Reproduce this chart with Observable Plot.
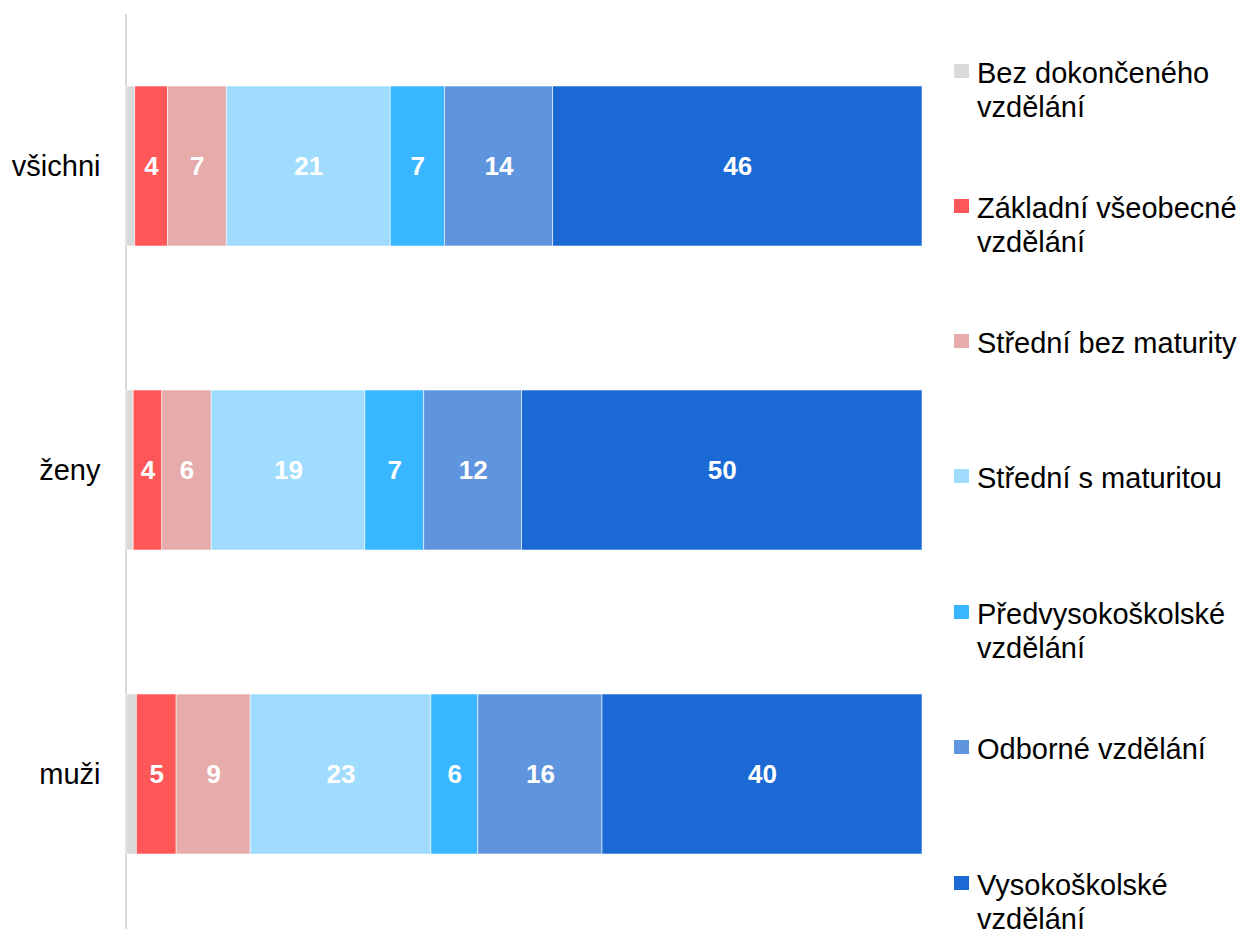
<!DOCTYPE html>
<html>
<head>
<meta charset="utf-8">
<script src="https://cdn.jsdelivr.net/npm/d3@7"></script>
<script src="https://cdn.jsdelivr.net/npm/@observablehq/plot@0.6"></script>
<style>
  html, body { margin: 0; padding: 0; background: #fff; }
  #wrap { position: relative; width: 1242px; height: 929px; overflow: hidden; font-family: "Liberation Sans", Arial, sans-serif; }
  #legend { position: absolute; left: 0; top: 0; }
  .item { position: absolute; left: 954px; width: 288px; }
  .sw { position: absolute; left: 0; width: 15px; height: 14px; }
  .lab { position: absolute; left: 23px; width: 265px; font-size: 29px; line-height: 34px; color: #000; }
</style>
</head>
<body>
<div id="wrap"><div id="chart"></div><div id="legend"></div></div>
<script>
const categories = ["všichni", "ženy", "muži"];
const seriesNames = [
  "Bez dokončeného vzdělání",
  "Základní všeobecné vzdělání",
  "Střední bez maturity",
  "Střední s maturitou",
  "Předvysokoškolské vzdělání",
  "Odborné vzdělání",
  "Vysokoškolské vzdělání"
];
const seriesColors = ["#d9d9d9", "#ff5757", "#e6acac", "#9fdcfd", "#38b6ff", "#5e95de", "#1a69d4"];
const valuesVsichni = [1.1, 4.1, 7.4, 20.6, 6.8, 13.6, 46.4];
const valuesZeny    = [0.9, 3.6, 6.2, 19.3, 7.4, 12.3, 50.3];
const valuesMuzi    = [1.3, 5.0, 9.3, 22.7, 5.9, 15.6, 40.2];

const rows = [];
[valuesVsichni, valuesZeny, valuesMuzi].forEach((vals, ci) => {
  vals.forEach((v, si) => rows.push({cat: categories[ci], series: seriesNames[si], value: v}));
});

const chart = Plot.plot({
  width: 1242,
  height: 929,
  marginLeft: 126,
  marginRight: 320,
  marginTop: 14,
  marginBottom: 3,
  style: {fontFamily: "'Liberation Sans', Arial, sans-serif", fontSize: "29px", color: "#000", background: "#fff"},
  x: {domain: [0, 100], axis: null},
  y: {domain: categories, paddingInner: 0.474, paddingOuter: 0.237, label: null},
  color: {domain: seriesNames, range: seriesColors},
  marks: [
    Plot.ruleX([0], {stroke: "#d9d9d9", strokeWidth: 2, dx: -0.5, insetBottom: -3}),
    Plot.barX(rows, Plot.stackX({x: "value", y: "cat", fill: "series", z: "series", stroke: "#fff", strokeWidth: 0.8, strokeOpacity: 0.7})),
    Plot.text(rows, Plot.stackX({
      x: "value", y: "cat", z: "series",
      text: d => d.value >= 2 ? String(Math.round(d.value)) : "",
      fill: "#fff", fontWeight: "bold", fontSize: 26
    })),
    Plot.axisY({tickSize: 0, tickPadding: 26, fontSize: 29, fill: "#000", label: null})
  ]
});
document.getElementById("chart").appendChild(chart);

const legendCenters = [72.3, 207.6, 342.8, 478.1, 613.3, 748.6, 884.5];
const legend = document.getElementById("legend");
seriesNames.forEach((name, i) => {
  const c = legendCenters[i];
  const item = document.createElement("div");
  item.className = "item";
  item.style.top = (c - 16.7) + "px";
  const sw = document.createElement("div");
  sw.className = "sw";
  sw.style.background = seriesColors[i];
  sw.style.top = "8px";
  const lab = document.createElement("div");
  lab.className = "lab";
  lab.style.top = "0px";
  lab.textContent = name;
  item.appendChild(sw);
  item.appendChild(lab);
  legend.appendChild(item);
});
</script>
</body>
</html>
